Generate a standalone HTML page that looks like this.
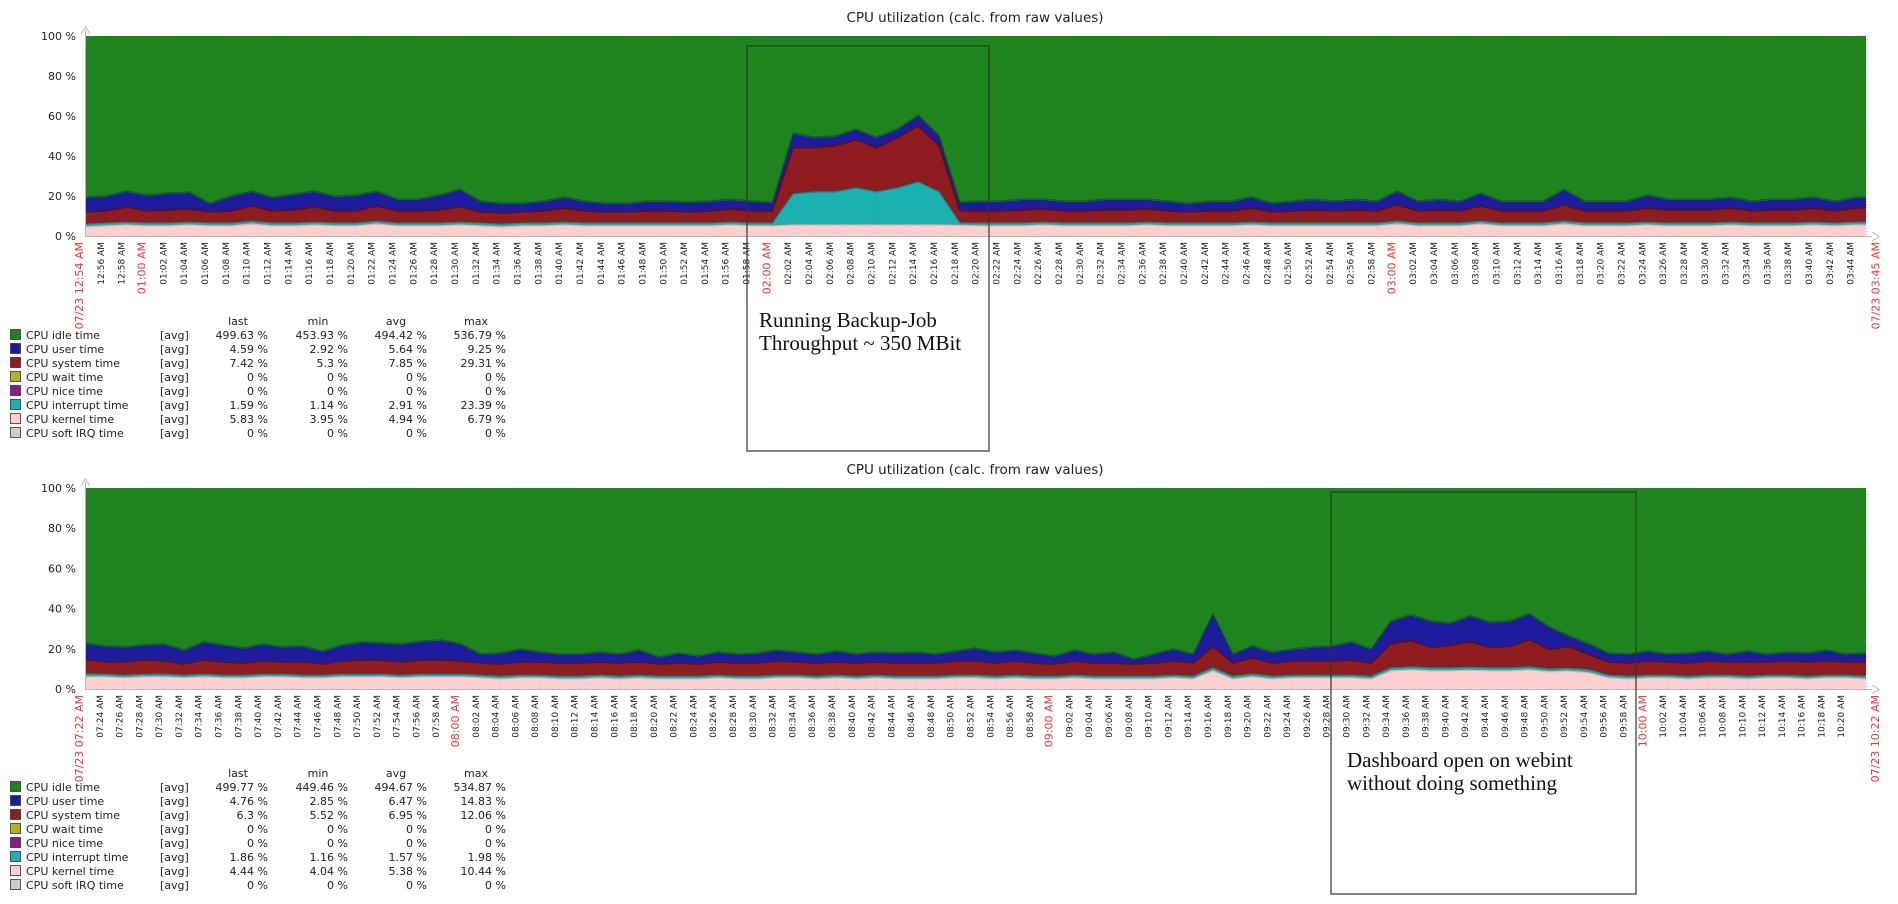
<!DOCTYPE html>
<html><head><meta charset="utf-8"><title>CPU utilization</title>
<style>
html,body{margin:0;padding:0;background:#fff;}
svg{display:block;font-family:"DejaVu Sans","Liberation Sans",sans-serif;}
</style></head>
<body>
<svg id="root" width="1898" height="904" viewBox="0 0 1898 904" xmlns="http://www.w3.org/2000/svg"></svg>
<script>
// ---------- TOP CHART DATA (2-min samples from 12:54 AM) ----------
const topKernel = [4.5,5,5.5,5,5,5.5,5,5,6,5, 5,5.5,5,5,6,5,5,5,5.5,5, 4.5,5,5,5.5,5,5,5,5,5,5, 5,5.5,5,5,5.5,5.5,5.5,5.5,5.5,5.5, 5.5,5.5,5.3,5,5,5,5.5,5,5,5, 5,5.5,5,5,5,5,5.5,5,5,5, 5,5,5,6,5,5,5,6,5,5, 5,6,5,5,5,5.5,5,5,5,5.5, 5,5,5,5.5,5,5.5];
const topInterrupt = [1.4,1.4,1.4,1.4,1.4,1.4,1.4,1.4,1.4,1.4, 1.4,1.4,1.4,1.4,1.4,1.4,1.4,1.4,1.4,1.4, 1.4,1.4,1.4,1.4,1.4,1.4,1.4,1.4,1.4,1.4, 1.4,1.4,1.4,1.4,15.5,16.5,16.5,18.5,16.5,18.5, 21.5,16.5,1.2,1.4,1.4,1.4,1.4,1.4,1.4,1.4, 1.4,1.4,1.4,1.4,1.4,1.4,1.4,1.4,1.4,1.4, 1.4,1.4,1.4,1.4,1.4,1.4,1.4,1.4,1.4,1.4, 1.4,1.4,1.4,1.4,1.4,1.4,1.4,1.4,1.4,1.4, 1.4,1.4,1.4,1.4,1.4,1.4];
const topSystem = [6,6,7.5,6,6.5,6.5,5.5,6,7.5,6, 6.5,7.5,6,6,7.5,6,6,6.5,7.5,5.5, 5.5,5.5,6,7,6,5.5,5.5,6,6,5.5, 6,6.5,6,6,23,22,23,24,22,25, 28,23,6,6,6,6.5,6.5,6,6,6.5, 6.5,6.5,6,5.5,6,6,7,5.5,6,6.5, 6,6.5,6,8,6,6.5,6,7.5,6,6, 6,8,6,6,6,7,6.5,6.5,6.5,7, 6,6.5,6.5,7,6,7];
const topUser = [7.1,7.1,7.6,7.6,8.1,8.1,4.1,7.1,7.1,6.6, 7.6,7.6,7.1,7.6,7.1,5.6,5.6,7.1,8.6,5.1, 4.6,4.1,4.6,5.1,4.6,4.1,4.1,4.6,4.6,4.6, 4.6,4.6,4.6,4.1,7,5,4.5,5,5,4, 5,5,4,4.6,4.6,5.1,4.6,4.6,4.6,5.1, 5.1,4.6,4.6,4.1,4.6,4.6,5.1,4.1,4.6,5.1, 4.6,5.1,4.6,6.6,4.6,5.1,4.6,6.1,4.6,4.6, 4.6,7.6,4.6,4.6,4.6,6.1,5.1,5.1,5.1,5.1, 4.6,5.1,5.1,5.1,4.6,5.1];

// ---------- BOTTOM CHART DATA (2-min samples from 07:22 AM) ----------
const botKernel = [6,6,5.5,6,6,5.5,6,5.5,5.5,6, 6,5.5,5.5,6,6,6,5.5,6,6,6, 5.5,5,5.5,5.5,5,5,5.5,5,5.5,5, 5,5,5.5,5,5,5.5,5.5,5,5.5,5, 5.5,5,5,5,5.5,5.5,5,5.5,5,5, 5.5,5,5,5,5,5.5,5,9,5,6, 5,5.5,5.5,5.5,5.5,5,9,9.5,9,9, 9.3,9,9,9.5,8.5,8.9,8,5.5,5,5.5, 5.5,5,5.5,5.5,5,5.5,5.5,5,5.5,5.5, 5];
const botInterrupt = [1.5,1.3,1.3,1.3,1.4,1.3,1.3,1.3,1.3,1.3, 1.3,1.3,1.3,1.3,1.3,1.3,1.3,1.3,1.3,1.3, 1.3,1.3,1.3,1.3,1.3,1.3,1.3,1.3,1.3,1.3, 1.3,1.3,1.3,1.3,1.3,1.3,1.3,1.3,1.3,1.3, 1.3,1.3,1.3,1.3,1.3,1.3,1.3,1.3,1.3,1.3, 1.3,1.3,1.3,1.3,1.3,1.3,1.3,1.5,1.3,1.4, 1.3,1.3,1.3,1.3,1.3,1.3,1.5,1.5,1.5,1.5, 1.5,1.5,1.5,1.5,1.4,1.4,1.5,1.3,1.3,1.3, 1.3,1.3,1.3,1.3,1.3,1.3,1.3,1.3,1.3,1.3, 1.3];
const botSystem = [7,6,6.5,7,6.5,5.5,7,6.5,6,6.5, 6,6.5,5.5,6.5,7,7,6.5,7,7,6.5, 6,6,6.5,6.5,6.5,6.5,6.5,6.5,6.5,6, 6.5,6,6.5,6.5,6.5,7,6.5,6.5,6.5,6.5, 6.5,6.5,6.5,6.5,7,7,6.5,7,6.5,6, 7,6.5,6.5,6,6.5,7,6.5,10.5,6.5,8, 6.5,7,7,7,7.5,6.5,11.9,13,10,11.1, 12.7,10,10.5,13.5,9.6,10.7,7.5,6.5,6.5,7, 6.5,6.5,7,6.5,7,6.5,7,7,7,6.5, 7];
const botUser = [7.9,7.7,7.2,7.2,8.1,6.7,8.7,8.2,7.2,8.2, 7.2,7.7,6.2,7.7,8.7,8.2,8.7,9.2,9.7,8.2, 4.2,5.2,6.2,4.7,4.2,4.2,4.7,4.2,5.7,3.2, 4.7,3.7,4.7,4.2,4.7,5.2,4.7,4.2,5.2,4.2, 4.7,4.7,5.2,4.2,4.7,6.2,5.2,5.2,4.7,3.7, 5.2,4.2,5.2,2.2,4.2,5.7,4.2,16,4.2,5.6, 5.2,5.7,6.7,7.2,8.7,6.7,11.1,12.5,13,10.9, 12.5,12.5,12.5,12.5,11,5,5,4.2,4.2,4.7, 3.7,4.7,4.7,3.7,5.2,3.7,4.2,4.2,5.2,3.7, 4.2];

// ---------- LEGEND DATA ----------
const legendNames = ["CPU idle time","CPU user time","CPU system time","CPU wait time","CPU nice time","CPU interrupt time","CPU kernel time","CPU soft IRQ time"];
const legendColors = ["#1c841c","#1c1c9c","#8f1c1f","#b2b222","#8a1c8a","#1ab1b1","#fdd0d0","#cccccc"];
const topLast = ["499.63 %","4.59 %","7.42 %","0 %","0 %","1.59 %","5.83 %","0 %"];
const topMin  = ["453.93 %","2.92 %","5.3 %","0 %","0 %","1.14 %","3.95 %","0 %"];
const topAvg  = ["494.42 %","5.64 %","7.85 %","0 %","0 %","2.91 %","4.94 %","0 %"];
const topMax  = ["536.79 %","9.25 %","29.31 %","0 %","0 %","23.39 %","6.79 %","0 %"];
const botLast = ["499.77 %","4.76 %","6.3 %","0 %","0 %","1.86 %","4.44 %","0 %"];
const botMin  = ["449.46 %","2.85 %","5.52 %","0 %","0 %","1.16 %","4.04 %","0 %"];
const botAvg  = ["494.67 %","6.47 %","6.95 %","0 %","0 %","1.57 %","5.38 %","0 %"];
const botMax  = ["534.87 %","14.83 %","12.06 %","0 %","0 %","1.98 %","10.44 %","0 %"];
const yTicks = [0,20,40,60,80,100];

const NS = "http://www.w3.org/2000/svg";
const root = document.getElementById("root");
function mk(tag, attrs, parent){ const e=document.createElementNS(NS,tag); for(const k in attrs) e.setAttribute(k,attrs[k]); (parent||root).appendChild(e); return e; }
function fmt(minOfDay){ let h=Math.floor(minOfDay/60)%24, m=minOfDay%60; const ap=h<12?"AM":"PM"; let hh=h%12; if(hh===0) hh=12; return String(hh).padStart(2,"0")+":"+String(m).padStart(2,"0")+" "+ap; }

function drawChart(cfg){
  const g = mk("g",{});
  
  
  const x0=85, x1=1866, yT=cfg.yTop, yB=cfg.yBot;
  const xs = m => x0 + m*(x1-x0)/cfg.range;
  const ys = v => yB - v*(yB-yT)/100;
  const t = mk("text",{x:975,y:yT-14,"text-anchor":"middle","font-size":"13.5",fill:"#222"},g);
  t.textContent="CPU utilization (calc. from raw values)";
  
  
  const idle = mk("rect",{x:x0,y:yT,width:x1-x0,height:yB-yT,fill:"#1e841e"},g);
  
  
  const series=[cfg.kernel,cfg.interrupt,cfg.system,cfg.user];
  const fills=["#fdd0d0","#1ab1b1","#8f1c1f","#1c1c9c"];
  const lines=["#e8b0b0","#138a8a","#5e1010","#14147a"];
  const names=["kernel-time-area","interrupt-time-area","system-time-area","user-time-area"];
  const n = Math.min(...series.map(s=>s.length));
  const cum=[new Array(n).fill(0)];
  series.forEach((s,j)=>{ cum.push(cum[j].map((v,i)=>v+s[i])); });
  const mx = i => Math.min(i*cfg.step, cfg.range);
  const pts = (arr) => { const p=[]; for(let i=0;i<n;i++) p.push([xs(mx(i)),ys(arr[i])]); if(mx(n-1)<cfg.range) p.push([xs(cfg.range),ys(arr[n-1])]); return p; };
  for(let j=series.length;j>=1;j--){
    const up=pts(cum[j]), lo=pts(cum[j-1]).reverse();
    const poly = mk("polygon",{points:up.concat(lo).map(p=>p[0].toFixed(1)+","+p[1].toFixed(1)).join(" "),fill:fills[j-1]},g);
    
    
  }
  for(let j=1;j<=series.length;j++){
    const up=pts(cum[j]);
    const pl = mk("polyline",{points:up.map(p=>p[0].toFixed(1)+","+(p[1]-(j===4?1:0)).toFixed(1)).join(" "),fill:"none",stroke:j===4?"#0f5e0f":lines[j-1],"stroke-width":1.2},g);
    
    
  }
  for(let m=cfg.tickStart;m<cfg.range;m+=2){
    const gl = mk("line",{x1:xs(m),x2:xs(m),y1:yT,y2:yB,stroke:"rgba(0,0,0,0.05)","stroke-dasharray":"1,3"},g);
    
    
  }
  const rb = mk("line",{x1:x1+1,x2:x1+1,y1:yT,y2:yB,stroke:"#bbb","stroke-dasharray":"1,2"},g);
  
  
  const xa = mk("line",{x1:x0,x2:x1+6,y1:yB+0.5,y2:yB+0.5,stroke:"#b0b8c0","stroke-width":1},g);
  
  
  const xarr = mk("path",{d:`M${x1+6},${yB-4} L${x1+13},${yB+0.5} L${x1+6},${yB+5}`,fill:"none",stroke:"#b0b8c0"},g);
  
  
  const ya = mk("line",{x1:x0+0.5,x2:x0+0.5,y1:yT-6,y2:yB,stroke:"#b0b8c0"},g);
  
  
  const yarr = mk("path",{d:`M${x0-4},${yT-2} L${x0+0.5},${yT-9} L${x0+5},${yT-2}`,fill:"none",stroke:"#b0b8c0"},g);
  
  
  yTicks.forEach(v=>{
    const yl = mk("text",{x:76,y:ys(v)+4,"text-anchor":"end","font-size":"11",fill:"#222"},g);
    yl.textContent = v+" %";
    
    
  });
  const lab=(m,txt,red)=>{
    const x=xs(m)-2, y=yB+6;
    const tl = mk("text",{x:x,y:y,transform:`rotate(-90 ${x} ${y})`,"text-anchor":"end","font-size":red?"11":"9",fill:red?"#ee3333":"#222"},g);
    tl.textContent=txt;
    
    
  };
  lab(0,"07/23 "+fmt(cfg.start),true);
  for(let m=cfg.tickStart;m<cfg.range;m+=2){ const mod=(cfg.start+m)%60; lab(m,fmt(cfg.start+m),mod===0); }
  lab(cfg.range+1.5,"07/23 "+fmt(cfg.start+cfg.range),true);
  const ly=cfg.legendY;
  const hdr=[["last",238],["min",318],["avg",396],["max",476]];
  hdr.forEach(h=>{ const ht=mk("text",{x:h[1],y:ly-10,"text-anchor":"middle","font-size":"11",fill:"#222"},g); ht.textContent=h[0];
    
     });
  legendNames.forEach((nm,i)=>{
    const y=ly+i*14;
    const sw=mk("rect",{x:10.5,y:y-5.5,width:10,height:10,fill:legendColors[i],stroke:"#333","stroke-width":0.8},g);
    
    
    const tn=mk("text",{x:26,y:y+4,"font-size":"11",fill:"#222"},g); tn.textContent=nm;
    
    
    const ta=mk("text",{x:160,y:y+4,"font-size":"11",fill:"#222"},g); ta.textContent="[avg]";
    
    
    [[cfg.last,268],[cfg.min,348],[cfg.avg,427],[cfg.max,506]].forEach(c=>{
      const tv=mk("text",{x:c[1],y:y+4,"text-anchor":"end","font-size":"11",fill:"#222"},g); tv.textContent=c[0][i];
      
      
    });
  });
}

drawChart({name:"top-cpu-chart",yTop:36,yBot:236,range:171,step:2,tickStart:2,start:54,
  kernel:topKernel,interrupt:topInterrupt,system:topSystem,user:topUser,
  legendY:335,last:topLast,min:topMin,avg:topAvg,max:topMax});
drawChart({name:"bottom-cpu-chart",yTop:488,yBot:689,range:180,step:2,tickStart:2,start:442,
  kernel:botKernel,interrupt:botInterrupt,system:botSystem,user:botUser,
  legendY:787,last:botLast,min:botMin,avg:botAvg,max:botMax});

function note(x,y,w,h,l1,l2,tx,ty,name){
  const r=mk("rect",{x:x,y:y,width:w,height:h,fill:"none",stroke:"#333","stroke-opacity":"0.75","stroke-width":1.6});
  
  
  const t1=mk("text",{x:tx,y:ty,"font-size":"21","font-family":"Liberation Serif, serif",fill:"#111"}); t1.textContent=l1;
  
  
  const t2=mk("text",{x:tx,y:ty+23,"font-size":"21","font-family":"Liberation Serif, serif",fill:"#111"}); t2.textContent=l2;
  
  
}
note(747,46,242,405,"Running Backup-Job","Throughput ~ 350 MBit",759,327,"backup-annotation");
note(1331,492,305,402,"Dashboard open on webint","without doing something",1347,767,"dashboard-annotation");
</script>
</body></html>
